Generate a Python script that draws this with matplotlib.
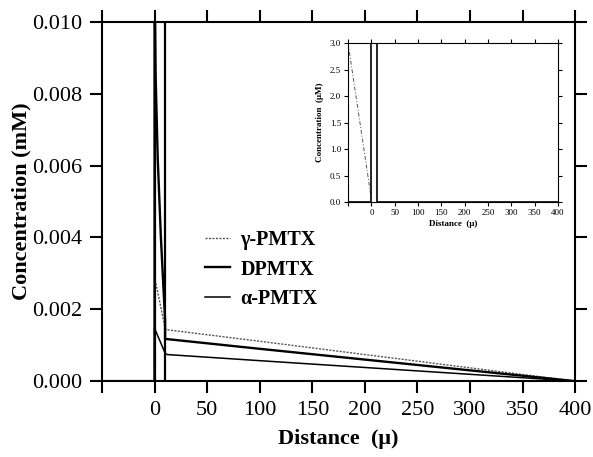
import matplotlib
matplotlib.use("Agg")
import matplotlib.pyplot as plt
import numpy as np

plt.rcParams['font.family'] = ['Liberation Serif', 'DejaVu Serif']

# concentration profiles (mM), main panel
membrane_edges = [0, 10]

gamma_x = [-50, 0, 0, 10, 12, 100, 200, 300, 400]
gamma_y = [0.0, 0.0, 0.0029, 0.00148, 0.00143, 0.00111, 0.00074, 0.00037, 0.0]

dpmtx_x = [-50, 0, 0, 1, 3, 6, 10, 10, 12, 100, 200, 300, 400]
dpmtx_y = [0.0, 0.0, 0.0115, 0.0085, 0.0062, 0.0040, 0.0017, 0.00117, 0.00117,
           0.00090, 0.00060, 0.00030, 0.0]

alpha_x = [-50, 0, 0, 10, 12, 100, 200, 300, 400]
alpha_y = [0.0, 0.0, 0.00147, 0.00078, 0.00074, 0.00057, 0.00038, 0.00019, 0.0]

# inset (uM)
in_gamma_x = [-50, 0]
in_gamma_y = [3.0, 0.05]
in_solid_x = [-50, 0, 0, 12, 12, 400]
in_solid_y = [0.0, 0.0, 10.0, 10.0, 0.0, 0.0]

xticks = [-50, 0, 50, 100, 150, 200, 250, 300, 350, 400]
xlabels = ['', '0', '50', '100', '150', '200', '250', '300', '350', '400']
yticks = [0.000, 0.002, 0.004, 0.006, 0.008, 0.010]
in_yticks = [0.0, 0.5, 1.0, 1.5, 2.0, 2.5, 3.0]

fig = plt.figure(figsize=(5.93, 4.57), dpi=100)
ax = fig.add_axes([0.172, 0.166, 0.798, 0.786])

for xe in membrane_edges:
    ax.axvline(xe, color='black', lw=1.6)
ax.plot(gamma_x, gamma_y, color='#555555', lw=1.0, ls=(0, (1.5, 1)), label='γ-PMTX')
ax.plot(dpmtx_x, dpmtx_y, color='black', lw=1.7, label='DPMTX')
ax.plot(alpha_x, alpha_y, color='black', lw=1.1, label='α-PMTX')

ax.set_xlim(-50, 400)
ax.set_ylim(0, 0.010)
ax.set_xticks(xticks)
ax.set_xticklabels(xlabels)
ax.set_yticks(yticks)
ax.set_yticklabels(['%.3f' % v for v in yticks])
ax.tick_params(direction='out', length=8.5, width=1.5, labelsize=16,
               top=True, right=True, pad=6)
for s in ax.spines.values():
    s.set_linewidth(1.5)
ax.set_xlabel('Distance  (μ)', fontsize=16, fontweight='bold', labelpad=6)
ax.set_ylabel('Concentration (mM)', fontsize=16, fontweight='bold', labelpad=0)

leg = ax.legend(loc='upper left', bbox_to_anchor=(0.18, 0.47), frameon=False,
                handlelength=1.25, handletextpad=0.5, labelspacing=0.45,
                prop={'size': 14.5, 'weight': 'bold'})

# inset
ins = fig.add_axes([0.587, 0.558, 0.354, 0.347])
ins.plot(in_gamma_x, in_gamma_y, color='#555555', lw=0.7, ls=(0, (4, 2, 1, 2)))
ins.plot(in_solid_x, in_solid_y, color='black', lw=1.2)
ins.set_xlim(-50, 400)
ins.set_ylim(0, 3.0)
ins.set_xticks(xticks)
ins.set_xticklabels(xlabels)
ins.set_yticks(in_yticks)
ins.set_yticklabels(['%.1f' % v for v in in_yticks])
ins.tick_params(direction='out', length=3, width=0.8, labelsize=6.5,
                top=True, right=True, pad=2)
for s in ins.spines.values():
    s.set_linewidth(0.8)
ins.set_xlabel('Distance  (μ)', fontsize=6.5, fontweight='bold', labelpad=2)
ins.set_ylabel('Concentration  (μM)', fontsize=6.5, fontweight='bold', labelpad=4)

fig.savefig('out.png', dpi=100)
